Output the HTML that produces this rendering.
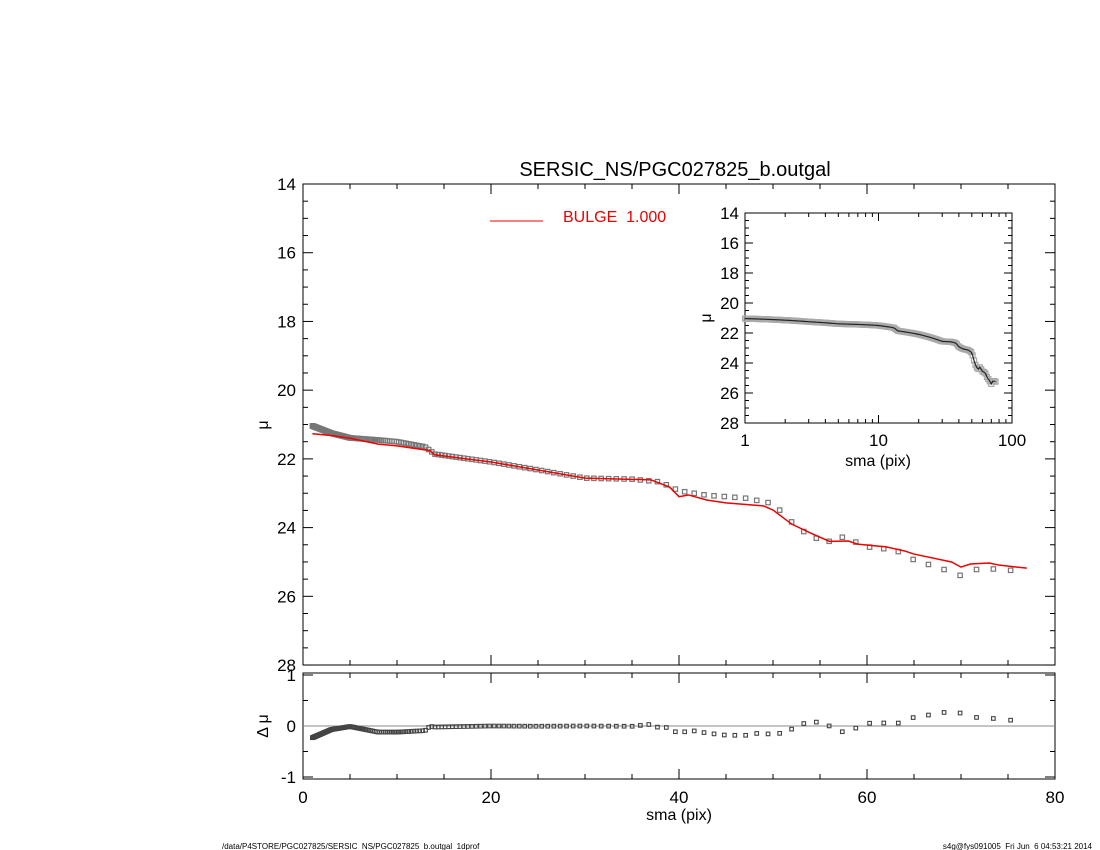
<!DOCTYPE html>
<html><head><meta charset="utf-8"><style>
html,body{margin:0;padding:0;background:#fff;width:1100px;height:850px;overflow:hidden}
text{font-family:"Liberation Sans",sans-serif;white-space:pre}
</style></head><body>
<svg id="s" width="1100" height="850" xmlns="http://www.w3.org/2000/svg" xml:space="preserve">
<text x="675" y="176" font-size="20" text-anchor="middle">SERSIC_NS/PGC027825_b.outgal</text>
<line x1="490" y1="221" x2="543" y2="221" stroke="#e00" stroke-width="1"/>
<text x="563" y="222" font-size="16" fill="#e00">BULGE  1.000</text>
<text x="222" y="849" font-size="8">/data/P4STORE/PGC027825/SERSIC_NS/PGC027825_b.outgal_1dprof</text>
<text x="1092" y="849" font-size="8" text-anchor="end">s4g@fys091005  Fri Jun  6 04:53:21 2014</text>
<g id="g"></g>
</svg>
<script>
const g=document.getElementById('g');let h='';
const X=x=>303+x*9.4, Y=m=>184+(m-14)*34.36, R=r=>726-r*51;
const IX=x=>745+Math.log10(x)/2*267, IY=m=>213+(m-14)*15;
function interp(t,x){for(let i=0;i<t.length-1;i++){if(x<=t[i+1][0]){const a=t[i],b=t[i+1];return a[1]+(b[1]-a[1])*(x-a[0])/(b[0]-a[0]);}}return t[t.length-1][1];}
const D=[[1,21.04],[3,21.25],[5,21.39],[8,21.45],[10,21.5],[13,21.65],[14,21.86],[20,22.09],[25,22.32],[30,22.56],[35,22.59],[38,22.67],[40,22.93],[43,23.06],[47,23.14],[50,23.3],[52,23.84],[54,24.27],[56,24.4],[57.5,24.27],[60,24.56],[63,24.65],[65,24.94],[68,25.2],[70,25.4],[72,25.18],[75,25.23],[77,25.32]];
const M=[[1,21.27],[3,21.32],[5,21.40],[8,21.57],[10,21.62],[13.5,21.76],[14,21.88],[20,22.09],[30,22.56],[37,22.61],[39,22.82],[40,23.1],[41,23.05],[43,23.2],[45,23.28],[49,23.37],[50,23.49],[52,23.9],[54,24.16],[56,24.4],[58,24.39],[59,24.48],[62,24.56],[64,24.68],[65,24.77],[69,25.0],[70,25.15],[71,25.06],[73,25.03],[74,25.09],[77,25.18]];
h+=`<rect x="303" y="184" width="752" height="481" fill="none" stroke="#000"/>`;
h+=`<rect x="303" y="673" width="752" height="106" fill="none" stroke="#000"/>`;
h+=`<rect x="745" y="213" width="267" height="210" fill="none" stroke="#000"/>`;
for(let x=0;x<=80;x+=5){const l=x%20?5:10,px=X(x);
 h+=`<line x1="${px}" y1="665" x2="${px}" y2="${665-l}" stroke="#000"/><line x1="${px}" y1="184" x2="${px}" y2="${184+l}" stroke="#000"/>`;
 h+=`<line x1="${px}" y1="779" x2="${px}" y2="${779-l}" stroke="#000"/><line x1="${px}" y1="673" x2="${px}" y2="${673+l}" stroke="#000"/>`;
 if(x%20==0)h+=`<text x="${px}" y="803" font-size="17" text-anchor="middle">${x}</text>`;}
for(let m=14;m<=28;m+=0.5){const l=m%2?5:10,py=Y(m);
 h+=`<line x1="303" y1="${py}" x2="${303+l}" y2="${py}" stroke="#000"/><line x1="1055" y1="${py}" x2="${1055-l}" y2="${py}" stroke="#000"/>`;
 if(m%2==0)h+=`<text x="296" y="${py+6}" font-size="17" text-anchor="end">${m}</text>`;}
for(let r=-1;r<=1;r+=0.5){const l=r%1?5:10,py=R(r);
 h+=`<line x1="303" y1="${py}" x2="${303+l}" y2="${py}" stroke="#000"/><line x1="1055" y1="${py}" x2="${1055-l}" y2="${py}" stroke="#000"/>`;
 if(r%1==0)h+=`<text x="296" y="${py+6}" font-size="17" text-anchor="end">${r}</text>`;}
h+=`<line x1="303" y1="${R(0)}" x2="1055" y2="${R(0)}" stroke="#888"/>`;
h+=`<text x="679" y="820" font-size="16" text-anchor="middle">sma (pix)</text>`;
h+=`<text x="268" y="425" font-size="16" transform="rotate(-90 268 425)" text-anchor="middle">μ</text>`;
h+=`<text x="268" y="726" font-size="16" transform="rotate(-90 268 726)" text-anchor="middle">Δ μ</text>`;
for(let d=1;d<=100;d*=10){for(let k=1;k<10;k++){const v=d*k;if(v>100)break;const px=IX(v),l=k==1?8:4;
 h+=`<line x1="${px}" y1="423" x2="${px}" y2="${423-l}" stroke="#000"/><line x1="${px}" y1="213" x2="${px}" y2="${213+l}" stroke="#000"/>`;
 if(k==1)h+=`<text x="${px}" y="446" font-size="17" text-anchor="middle">${v}</text>`;}}
for(let m=14;m<=28;m+=0.5){const l=m%2?4:8,py=IY(m);
 h+=`<line x1="745" y1="${py}" x2="${745+l}" y2="${py}" stroke="#000"/><line x1="1012" y1="${py}" x2="${1012-l}" y2="${py}" stroke="#000"/>`;
 if(m%2==0)h+=`<text x="739" y="${py+6}" font-size="17" text-anchor="end">${m}</text>`;}
h+=`<text x="878" y="466" font-size="16" text-anchor="middle">sma (pix)</text>`;
h+=`<text x="711" y="318" font-size="16" transform="rotate(-90 711 318)" text-anchor="middle">μ</text>`;
let xs=[];for(let x=1;x<=77;x=x*1.025)xs.push(x);
let pm='',pi='',pl='';
for(const x of xs){const d=interp(D,x),m=interp(M,x),r=d-m;
 pm+=`<rect x="${X(x)-2.2}" y="${Y(d)-2.2}" width="4.4" height="4.4" fill="none" stroke="#777" stroke-width="1.2"/>`;
 pi+=`<rect x="${IX(x)-2.5}" y="${IY(d)-2.5}" width="5" height="5" fill="none" stroke="#aaa" stroke-width="1.2"/>`;
 pl+=`<rect x="${X(x)-1.8}" y="${R(r)-1.8}" width="3.6" height="3.6" fill="none" stroke="#444" stroke-width="1.1"/>`;}
h+=pm+pi+pl;
h+=`<polyline fill="none" stroke="#222" stroke-width="1.2" points="${xs.map(x=>IX(x)+','+IY(interp(D,x))).join(' ')}"/>`;
h+=`<polyline fill="none" stroke="#e00" stroke-width="1.5" points="${M.map(p=>X(p[0])+','+Y(p[1])).join(' ')}"/>`;
g.innerHTML=h;
</script>
</body></html>
